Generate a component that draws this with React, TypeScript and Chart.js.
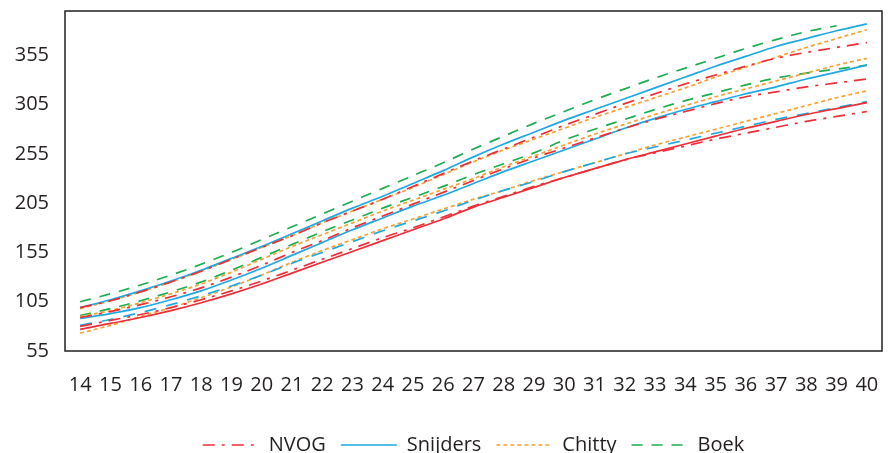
import { useEffect, useRef } from "react";
import { Chart, registerables } from "chart.js";

Chart.register(...registerables);

const weeks = ["14","15","16","17","18","19","20","21","22","23","24","25","26","27","28","29","30","31","32","33","34","35","36","37","38","39","40"];
const yTicks = [55, 105, 155, 205, 255, 305, 355];
const legendNames = ["NVOG", "Snijders", "Chitty", "Boek"];

const nvogP90 = [99,106,115,125,136,148,160,172,185,197,209,222,235,248,260,272,284,295,306,316,326,335,344,352,358,363,368];
const nvogP50 = [89,95,102,110,119,130,142,155,167,180,192,204,216,228,240,251,261,271,281,290,298,306,313,318,323,327,331];
const nvogP10 = [80,86,92,99,107,116,126,137,148,159,170,180,191,202,212,222,231,240,249,256,263,270,276,282,288,293,298];
const nvogLow = [77,83,89,96,104,113,123,134,145,156,167,178,189,201,211,221,231,240,249,257,265,273,281,288,295,301,307];

const snijdersP90 = [99,107,116,126,137,149,161,174,187,200,212,225,238,252,265,277,289,300,311,322,333,344,354,364,372,380,387];
const snijdersP50 = [88,93,99,107,116,127,139,152,165,178,190,202,213,225,237,248,259,270,281,291,300,308,316,323,331,338,345];
const snijdersP10 = [81,87,94,102,111,121,132,144,155,166,177,187,197,208,218,227,237,246,255,262,269,276,283,290,296,302,308];

const chittyP90 = [98,106,115,125,136,148,160,172,185,197,209,221,234,247,259,270,281,292,302,312,322,333,343,353,363,372,381];
const chittyP50 = [90,96,104,113,123,135,148,161,173,185,197,208,219,230,242,253,264,275,285,295,304,313,321,329,337,345,352];
const chittyP10 = [73,81,90,99,109,120,132,145,157,168,179,189,199,209,218,228,237,246,255,264,272,280,288,296,304,312,319];

const boekP90 = [105,113,122,132,143,155,168,181,194,207,220,233,246,260,273,286,298,310,321,332,342,352,362,371,379,385,null];
const boekP50 = [91,98,106,115,125,137,150,163,176,188,200,211,222,234,245,256,269,280,290,300,309,317,325,332,337,341,345];

const RED = "#ee2e36";
const BLUE = "#1fa9e3";
const ORANGE = "#f7a034";
const GREEN = "#1aae4f";
const TEXT = "#231f20";
const FONT = "'Open Sans', 'Noto Sans', sans-serif";

const DASH_DOT = [12, 7, 3, 7];
const DASH = [11, 9];
const DOT = [4, 3];
const LONG_DASH = [12, 10];

function line(label: string, data: (number | null)[], color: string, dash: number[]) {
  return {
    label,
    data,
    borderColor: color,
    backgroundColor: color,
    borderWidth: 1.7,
    borderDash: dash,
    pointRadius: 0,
    pointHoverRadius: 0,
    pointStyle: "line" as const,
    fill: false,
    cubicInterpolationMode: "monotone" as const,
    spanGaps: false,
  };
}

const framePlugin = {
  id: "frame",
  afterDatasetsDraw(chart: any) {
    const { ctx, chartArea: a } = chart;
    ctx.save();
    ctx.strokeStyle = TEXT;
    ctx.lineWidth = 1.5;
    ctx.setLineDash([]);
    ctx.strokeRect(a.left, a.top, a.right - a.left, a.bottom - a.top);
    ctx.restore();
  },
};

export default function App() {
  const ref = useRef<HTMLCanvasElement | null>(null);

  useEffect(() => {
    document.body.style.margin = "0";
    document.body.style.overflow = "hidden";
    document.documentElement.style.overflow = "hidden";
    if (!ref.current) return;
    const chart = new Chart(ref.current, {
      type: "line",
      data: {
        labels: weeks,
        datasets: [
          line("NVOG", nvogP90, RED, DASH_DOT),
          line("NVOG P50", nvogP50, RED, DASH_DOT),
          line("NVOG P10", nvogP10, RED, DASH_DOT),
          line("NVOG low", nvogLow, RED, []),
          line("Snijders", snijdersP90, BLUE, []),
          line("Snijders P50", snijdersP50, BLUE, []),
          line("Snijders P10", snijdersP10, BLUE, LONG_DASH),
          line("Chitty", chittyP90, ORANGE, DOT),
          line("Chitty P50", chittyP50, ORANGE, DOT),
          line("Chitty P10", chittyP10, ORANGE, DOT),
          line("Boek", boekP90, GREEN, DASH),
          line("Boek P50", boekP50, GREEN, DASH),
        ],
      },
      options: {
        animation: false,
        responsive: true,
        maintainAspectRatio: false,
        layout: { padding: { top: 11, right: 7, left: 0, bottom: 0 } },
        plugins: {
          tooltip: { enabled: false },
          legend: {
            display: true,
            position: "bottom",
            fullSize: false,
            maxHeight: 33,
            labels: {
              usePointStyle: true,
              pointStyle: "line",
              pointStyleWidth: 56,
              boxHeight: 20,
              padding: 15,
              color: TEXT,
              font: { family: FONT, size: 20 },
              generateLabels: (c: any) =>
                c.data.datasets
                  .map((ds: any, i: number) => ({
                    text: ds.label,
                    strokeStyle: ds.borderColor,
                    fillStyle: ds.borderColor,
                    fontColor: TEXT,
                    lineWidth: ds.borderWidth,
                    lineDash: ds.borderDash,
                    lineCap: "butt",
                    pointStyle: "line",
                    datasetIndex: i,
                    hidden: false,
                  }))
                  .filter((it: any) => legendNames.includes(it.text)),
            },
          },
        },
        scales: {
          x: {
            type: "category",
            offset: true,
            grid: { display: false, drawTicks: false },
            border: { display: false },
            ticks: {
              color: TEXT,
              font: { family: FONT, size: 20 },
              padding: 22,
              autoSkip: false,
              maxRotation: 0,
              minRotation: 0,
            },
            afterFit: (s: any) => {
              s.height = 69;
              s.paddingLeft = 0;
              s.paddingRight = 0;
            },
          },
          y: {
            type: "linear",
            min: 55,
            max: 400,
            grid: { display: false, drawTicks: false },
            border: { display: false },
            ticks: {
              color: TEXT,
              font: { family: FONT, size: 20 },
              padding: 16,
            },
            afterBuildTicks: (s: any) => {
              s.ticks = yTicks.map((v) => ({ value: v }));
            },
            afterFit: (s: any) => {
              s.width = 65;
              s.paddingTop = 0;
              s.paddingBottom = 0;
            },
          },
        },
      },
      plugins: [framePlugin],
    });
    return () => chart.destroy();
  }, []);

  return (
    <div style={{ position: "relative", width: "889px", height: "453px", overflow: "hidden" }}>
      <canvas ref={ref} style={{ display: "block" }} />
    </div>
  );
}
